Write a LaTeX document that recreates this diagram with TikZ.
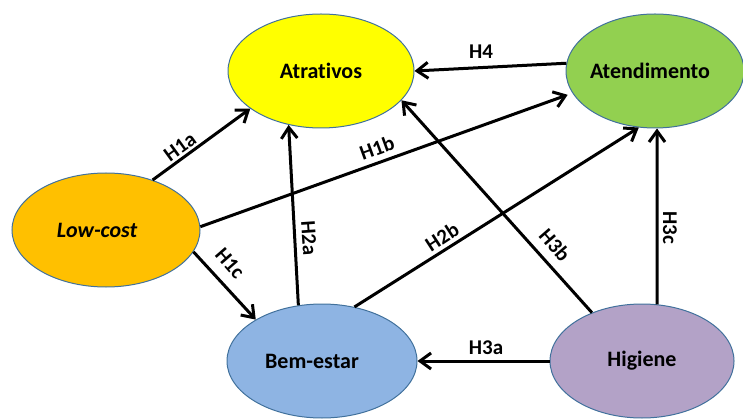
\documentclass[tikz,border=0pt]{standalone}
\usepackage{fontspec}
\setmainfont{Carlito}[Ligatures={NoCommon}]
\usetikzlibrary{shapes.geometric,arrows.meta}
\definecolor{cyel}{HTML}{FFFF00}
\definecolor{cgrn}{HTML}{92D050}
\definecolor{corg}{HTML}{FFC000}
\definecolor{cblu}{HTML}{8EB4E3}
\definecolor{cpur}{HTML}{B3A2C7}
\definecolor{cbord}{HTML}{41719C}
\begin{document}
\begin{tikzpicture}[x=1pt,y=-1pt,
 ell/.style={ellipse, draw=cbord, line width=1pt, inner sep=0pt, minimum height=114pt, font=\fontsize{22}{26}\selectfont\bfseries},
 lab/.style={font=\fontsize{21}{25}\selectfont\bfseries, inner sep=1pt},
 arr/.style={line width=3pt, -{Straight Barb[length=11pt,width=16pt]}}]
\useasboundingbox (0,0) rectangle (743,419);
\node[ell, fill=cyel, minimum width=186pt] (atr) at (321,71) {Atrativos};
\node[ell, fill=cgrn, minimum width=178pt] (ate) at (655,71) {\hspace*{-10pt}Atendimento};
\node[ell, fill=corg, minimum width=188pt] (lc) at (106,230) {\hspace*{-18pt}\itshape Low-cost};
\node[ell, fill=cblu, minimum width=190pt] (bem) at (322,361) {\hspace*{-20pt}Bem-estar};
\node[ell, fill=cpur, minimum width=184pt] (hig) at (642,361) {Higiene};

\draw[arr] (lc.47) -- (atr.208);
\draw[arr, shorten >=5pt] (lc.2) -- (ate.195);
\draw[arr] (lc.-14) -- (bem.148);
\draw[arr] (bem.113) -- (atr.239);
\draw[arr] (bem.59) -- (ate.254);
\draw[arr] (hig.136) -- (atr.-20);
\draw[arr] (hig.75) -- (ate.272);
\draw[arr] (hig.west) -- (bem.east);
\draw[arr] (ate.175) -- (atr.east);

\node[lab, rotate=36] (t1a) at (180,147) {H1a};
\node[lab, rotate=20] (t1b) at (377,148) {H1b};
\node[lab, rotate=-49] (t1c) at (230,263) {H1c};
\node[lab, rotate=-86] (t2a) at (309,238) {H2a};
\node[lab, rotate=33] (t2b) at (442,237) {H2b};
\node[lab, rotate=-49] (t3b) at (555,245) {H3b};
\node[lab, rotate=-90] (t3c) at (670,228) {H3c};
\node[lab] (t3a) at (486,348) {H3a};
\node[lab] (t4) at (481,52) {H4};
\end{tikzpicture}
\end{document}
